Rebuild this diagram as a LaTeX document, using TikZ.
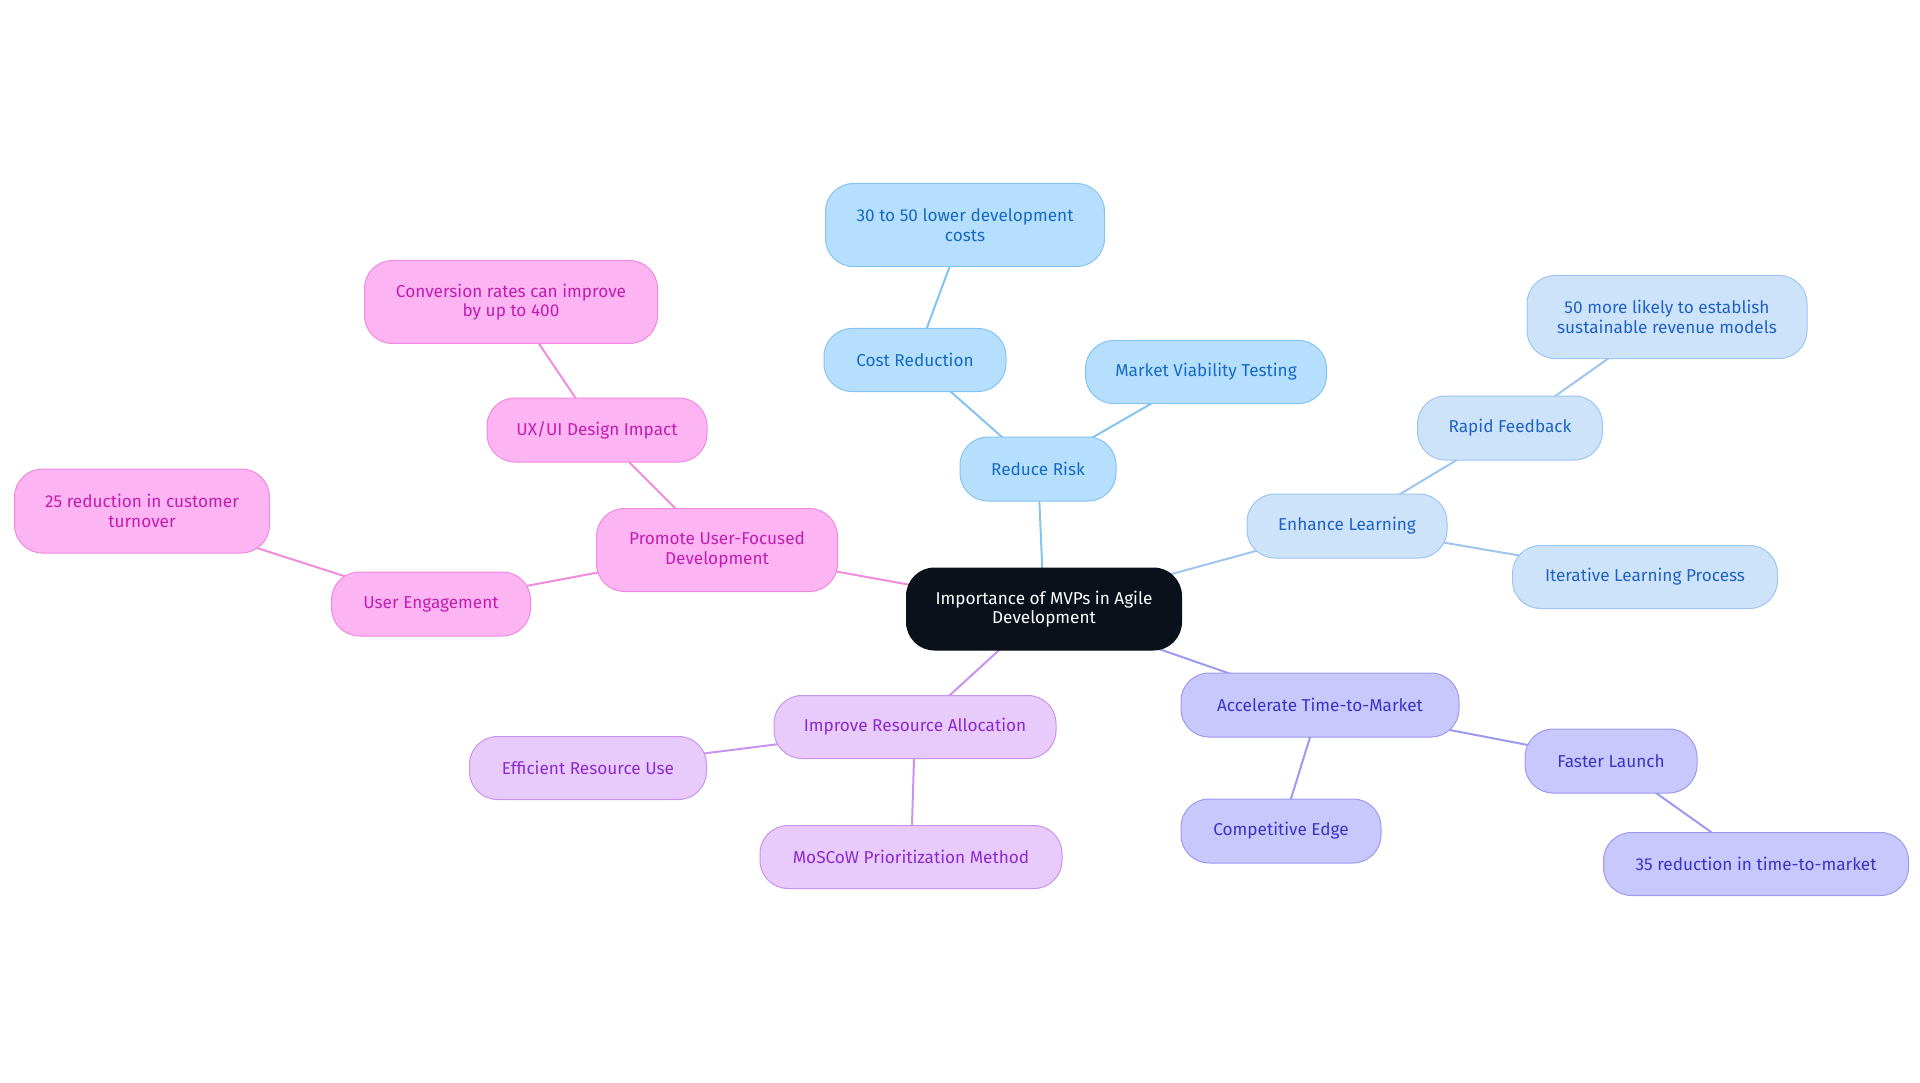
\documentclass[tikz,border=0pt]{standalone}
\usepackage{fontspec}
\setmainfont{Fira Sans}
\usetikzlibrary{backgrounds}

\definecolor{skyfill}{HTML}{B5DFFD}
\definecolor{skydraw}{HTML}{86C4F0}
\definecolor{skytext}{HTML}{1669C4}
\definecolor{icefill}{HTML}{CDE3FA}
\definecolor{icedraw}{HTML}{9DC5F0}
\definecolor{icetext}{HTML}{1F62C6}
\definecolor{lavfill}{HTML}{C8C8FC}
\definecolor{lavdraw}{HTML}{9C9AF0}
\definecolor{lavtext}{HTML}{3A34C6}
\definecolor{lilacfill}{HTML}{E8CAFB}
\definecolor{lilacdraw}{HTML}{C993F0}
\definecolor{lilactext}{HTML}{8A2BCF}
\definecolor{pinkfill}{HTML}{FCB4F2}
\definecolor{pinkdraw}{HTML}{F08BDD}
\definecolor{pinktext}{HTML}{C21DB0}
\definecolor{rootfill}{HTML}{0B111B}

\tikzset{
  mvpbox/.style={rectangle, rounded corners=28pt, line width=1pt, align=center,
    inner sep=0pt, font=\fontsize{17.2}{19.5}\selectfont},
  rootbox/.style={mvpbox, fill=rootfill, draw=rootfill, text=white},
  skybox/.style={mvpbox, fill=skyfill, draw=skydraw, text=skytext},
  icebox/.style={mvpbox, fill=icefill, draw=icedraw, text=icetext},
  lavbox/.style={mvpbox, fill=lavfill, draw=lavdraw, text=lavtext},
  lilacbox/.style={mvpbox, fill=lilacfill, draw=lilacdraw, text=lilactext},
  pinkbox/.style={mvpbox, fill=pinkfill, draw=pinkdraw, text=pinktext},
  link/.style={line width=2pt}
}

\begin{document}
\begin{tikzpicture}[x=1pt,y=-1pt]
	\useasboundingbox (0,0) rectangle (1920,1083);
	% root
	\node[rootbox, minimum width=275pt, minimum height=82pt] (root) at (1044,609) {Importance of MVPs in Agile\\Development};
	% reduce risk
	\node[skybox, minimum width=156pt, minimum height=64pt] (risk) at (1038,469) {Reduce Risk};
	\node[skybox, minimum width=182pt, minimum height=63pt] (cost) at (915,360) {Cost Reduction};
	\node[skybox, minimum width=279pt, minimum height=83pt] (costpct) at (965,225) {30 to 50 lower development\\costs};
	\node[skybox, minimum width=241pt, minimum height=63pt] (market) at (1206,372) {Market Viability Testing};
	% enhance learning
	\node[icebox, minimum width=200pt, minimum height=64pt] (learn) at (1347,526) {Enhance Learning};
	\node[icebox, minimum width=185pt, minimum height=64pt] (feedback) at (1510,428) {Rapid Feedback};
	\node[icebox, minimum width=280pt, minimum height=83pt] (revenue) at (1667,317) {50 more likely to establish\\sustainable revenue models};
	\node[icebox, minimum width=265pt, minimum height=63pt] (iterate) at (1645,577) {Iterative Learning Process};
	% time to market
	\node[lavbox, minimum width=278pt, minimum height=64pt] (speed) at (1320,705) {Accelerate Time-to-Market};
	\node[lavbox, minimum width=172pt, minimum height=64pt] (launch) at (1611,761) {Faster Launch};
	\node[lavbox, minimum width=200pt, minimum height=64pt] (edge) at (1281,831) {Competitive Edge};
	\node[lavbox, minimum width=305pt, minimum height=63pt] (ttm) at (1756,864) {35 reduction in time-to-market};
	% resources
	\node[lilacbox, minimum width=282pt, minimum height=63pt] (resource) at (915,727) {Improve Resource Allocation};
	\node[lilacbox, minimum width=237pt, minimum height=63pt] (efficient) at (588,768) {Efficient Resource Use};
	\node[lilacbox, minimum width=302pt, minimum height=63pt] (moscow) at (911,857) {MoSCoW Prioritization Method};
	% user focus
	\node[pinkbox, minimum width=241pt, minimum height=83pt] (user) at (717,550) {Promote User-Focused\\Development};
	\node[pinkbox, minimum width=220pt, minimum height=64pt] (uxui) at (597,430) {UX/UI Design Impact};
	\node[pinkbox, minimum width=293pt, minimum height=83pt] (conv) at (511,302) {Conversion rates can improve\\by up to 400};
	\node[pinkbox, minimum width=199pt, minimum height=64pt] (engage) at (431,604) {User Engagement};
	\node[pinkbox, minimum width=255pt, minimum height=84pt] (turnover) at (142,511) {25 reduction in customer\\turnover};

	\begin{scope}[on background layer]
	 \foreach \a/\b in {root/risk, risk/cost, cost/costpct, risk/market}
	 \draw[link, skydraw] (\a.center) -- (\b.center);
	 \foreach \a/\b in {root/learn, learn/feedback, feedback/revenue, learn/iterate}
	 \draw[link, icedraw] (\a.center) -- (\b.center);
	 \foreach \a/\b in {root/speed, speed/launch, launch/ttm, speed/edge}
	 \draw[link, lavdraw] (\a.center) -- (\b.center);
	 \foreach \a/\b in {root/resource, resource/efficient, resource/moscow}
	 \draw[link, lilacdraw] (\a.center) -- (\b.center);
	 \foreach \a/\b in {root/user, user/uxui, uxui/conv, user/engage, engage/turnover}
	 \draw[link, pinkdraw] (\a.center) -- (\b.center);
	\end{scope}
\end{tikzpicture}
\end{document}
